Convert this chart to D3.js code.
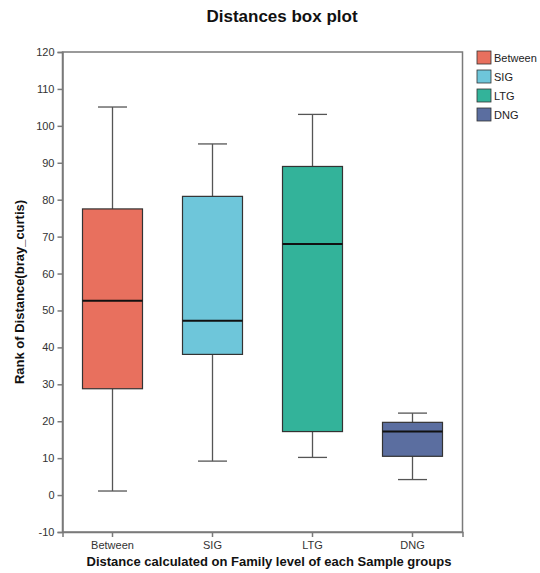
<!DOCTYPE html>
<html><head><meta charset="utf-8">
<script src="https://cdn.jsdelivr.net/npm/d3@7"></script>
<style>body{margin:0;background:#fff;}svg{display:block;font-family:"Liberation Sans",Arial,sans-serif;}</style>
</head><body>
<svg id="chart" width="540" height="573"></svg>
<script>
const categories = ["Between", "SIG", "LTG", "DNG"];
const whiskerLow  = [1.1, 9.2, 10.2, 4.2];
const q1          = [28.8, 38.1, 17.2, 10.5];
const median      = [52.6, 47.2, 68.0, 17.2];
const q3          = [77.5, 80.9, 89.0, 19.7];
const whiskerHigh = [105.1, 95.1, 103.1, 22.2];
const colors = ["#E8705E", "#6EC6DA", "#33B39A", "#5B6EA0"];
const yTicks = [-10, 0, 10, 20, 30, 40, 50, 60, 70, 80, 90, 100, 110, 120];

(function () {
const svg = d3.select("#chart");
const pLeft = 62.5, pRight = 462.5, pTop = 52, pBottom = 532;
const x = d3.scaleBand().domain(categories).range([pLeft, pRight]).paddingInner(0.4).paddingOuter(0.2);
const y = d3.scaleLinear().domain([-10, 120]).range([pBottom, pTop]);
const axisColor = "#7a7a7a";

const data = categories.map((c, i) => ({c, lo: whiskerLow[i], q1: q1[i], med: median[i], q3: q3[i], hi: whiskerHigh[i], color: colors[i]}));

// frame
svg.append("rect").attr("x", pLeft).attr("y", pTop).attr("width", pRight - pLeft).attr("height", pBottom - pTop)
  .attr("fill", "none").attr("stroke", axisColor).attr("stroke-width", 1.5);

// y axis
const yAxis = svg.append("g").attr("transform", `translate(${pLeft},0)`)
  .call(d3.axisLeft(y).tickValues(yTicks).tickFormat(d => String(d)).tickSize(5).tickPadding(3));
yAxis.select(".domain").attr("stroke", axisColor).attr("stroke-width", 1.5);
yAxis.selectAll(".tick line").attr("stroke", axisColor).attr("stroke-width", 1.5);
yAxis.selectAll("text").attr("font-size", 11).attr("fill", "#333").attr("font-family", "Liberation Sans, Arial, sans-serif");

// x axis
const xAxis = svg.append("g").attr("transform", `translate(0,${pBottom})`)
  .call(d3.axisBottom(x).tickSize(5).tickPadding(4));
xAxis.select(".domain").attr("stroke", axisColor).attr("stroke-width", 1.5);
xAxis.selectAll(".tick line").attr("stroke", axisColor).attr("stroke-width", 1.5);
xAxis.selectAll("text").attr("font-size", 11).attr("fill", "#333").attr("font-family", "Liberation Sans, Arial, sans-serif");

// boxes
const g = svg.append("g");
const capW = 29;
data.forEach(d => {
  const cx = x(d.c) + x.bandwidth() / 2;
  const gg = g.append("g");
  gg.append("line").attr("x1", cx).attr("x2", cx).attr("y1", y(d.hi)).attr("y2", y(d.q3)).attr("stroke", "#555").attr("stroke-width", 1.3);
  gg.append("line").attr("x1", cx).attr("x2", cx).attr("y1", y(d.q1)).attr("y2", y(d.lo)).attr("stroke", "#555").attr("stroke-width", 1.3);
  gg.append("line").attr("x1", cx - capW / 2).attr("x2", cx + capW / 2).attr("y1", y(d.hi)).attr("y2", y(d.hi)).attr("stroke", "#555").attr("stroke-width", 1.3);
  gg.append("line").attr("x1", cx - capW / 2).attr("x2", cx + capW / 2).attr("y1", y(d.lo)).attr("y2", y(d.lo)).attr("stroke", "#555").attr("stroke-width", 1.3);
  gg.append("rect").attr("x", x(d.c)).attr("y", y(d.q3)).attr("width", x.bandwidth()).attr("height", y(d.q1) - y(d.q3))
    .attr("fill", d.color).attr("stroke", "#333").attr("stroke-width", 1.2);
  gg.append("line").attr("x1", x(d.c)).attr("x2", x(d.c) + x.bandwidth()).attr("y1", y(d.med)).attr("y2", y(d.med))
    .attr("stroke", "#111").attr("stroke-width", 2);
});

// title
svg.append("text").attr("x", 282).attr("y", 22).attr("text-anchor", "middle")
  .attr("font-size", 17).attr("font-weight", "bold").attr("fill", "#111").text("Distances box plot");

// axis titles
svg.append("text").attr("x", 269).attr("y", 566).attr("text-anchor", "middle")
  .attr("font-size", 13).attr("font-weight", "bold").attr("fill", "#111")
  .text("Distance calculated on Family level of each Sample groups");
svg.append("text").attr("transform", `translate(24,${(pTop + pBottom) / 2}) rotate(-90)`).attr("text-anchor", "middle")
  .attr("font-size", 13).attr("font-weight", "bold").attr("fill", "#111")
  .text("Rank of Distance(bray_curtis)");

// legend
const lg = svg.append("g").attr("transform", "translate(477,51)");
categories.forEach((c, i) => {
  const row = lg.append("g").attr("transform", `translate(0,${i * 19})`);
  row.append("rect").attr("width", 14).attr("height", 13).attr("fill", colors[i]).attr("stroke", "#333").attr("stroke-width", 0.8);
  row.append("text").attr("x", 17).attr("y", 11).attr("font-size", 11).attr("fill", "#222").text(c);
});
})();
</script>
</body></html>
